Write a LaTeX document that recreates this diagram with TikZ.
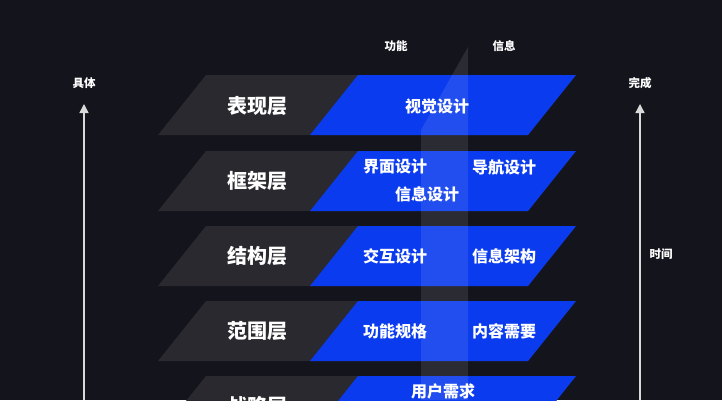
\documentclass[tikz,border=0pt]{standalone}
\usepackage{fontspec}
\newfontfamily\cjk{Noto Sans CJK SC}
\usepackage{tikz}
\usetikzlibrary{arrows.meta}
\usetikzlibrary{calc}
\definecolor{fond}{HTML}{14141C}
\definecolor{sombre}{HTML}{29292F}
\definecolor{bleu}{HTML}{0A3BEE}

\begin{document}
\begin{tikzpicture}[x=1pt,y=-1pt]
\tikzstyle{couche}=[text=white,font=\cjk\bfseries\fontsize{20}{22}\selectfont]
\tikzstyle{tache}=[text=white,font=\cjk\bfseries\fontsize{16}{18}\selectfont,inner sep=0pt]
\tikzstyle{etiq}=[text=white,font=\cjk\bfseries\fontsize{11.5}{13}\selectfont,inner sep=0pt]
\tikzstyle{fleche}=[-{Triangle[width=9pt,length=9pt]},draw=white!85!black,line width=1.4pt]
%fond
\fill[fond] (0,0) rectangle (722,400);
\useasboundingbox (0,0) rectangle (722,400);
%placementdescouches
\fill[sombre] (158,135) -- (206,75) -- (576,75) -- (528,135) -- cycle;
\fill[bleu] (310,135) -- (358,75) -- (576,75) -- (528,135) -- cycle;
\fill[sombre] (158,211) -- (206,151) -- (576,151) -- (528,211) -- cycle;
\fill[bleu] (310,211) -- (358,151) -- (576,151) -- (528,211) -- cycle;
\fill[sombre] (158,286) -- (206,226) -- (576,226) -- (528,286) -- cycle;
\fill[bleu] (310,286) -- (358,226) -- (576,226) -- (528,286) -- cycle;
\fill[sombre] (158,361) -- (206,301) -- (576,301) -- (528,361) -- cycle;
\fill[bleu] (310,361) -- (358,301) -- (576,301) -- (528,361) -- cycle;
\fill[sombre] (158,436) -- (206,376) -- (576,376) -- (528,436) -- cycle;
\fill[bleu] (310,436) -- (358,376) -- (576,376) -- (528,436) -- cycle;
%bandeverticale
\fill[white,opacity=0.1] (421,400) -- (421,130) -- (468,47) -- (468,400) -- cycle;
%placementdesnœuds
\node[couche] (presentation) at (257,106) {表现层};
\node[couche] (cadre) at (257,181) {框架层};
\node[couche] (structure) at (257,256) {结构层};
\node[couche] (portee) at (257,331) {范围层};
\node[couche] (strategie) at (257,406) {战略层};
\node[tache] (visuel) at (437,106) {视觉设计};
\node[tache] (interface) at (395,167) {界面设计};
\node[tache] (navigation) at (504,167) {导航设计};
\node[tache] (infodesign) at (427,194) {信息设计};
\node[tache] (interaction) at (395,256) {交互设计};
\node[tache] (archi) at (504,256) {信息架构};
\node[tache] (fonctions) at (395,331) {功能规格};
\node[tache] (contenu) at (504,331) {内容需要};
\node[tache] (besoins) at (443,391) {用户需求};
\node[etiq] (fonction) at (396,46) {功能};
\node[etiq] (info) at (504,46) {信息};
\node[etiq] (concret) at (84,83) {具体};
\node[etiq] (fini) at (640,83) {完成};
\node[etiq] (temps) at (661,254) {时间};
%placementdesflèches
\coordinate (concretbas) at (84,400);
\coordinate (concrethaut) at (84,104);
\coordinate (finibas) at (640,400);
\coordinate (finihaut) at (640,104);
\draw[fleche] (concretbas) -- (concrethaut);
\draw[fleche] (finibas) -- (finihaut);
\end{tikzpicture}
\end{document}
